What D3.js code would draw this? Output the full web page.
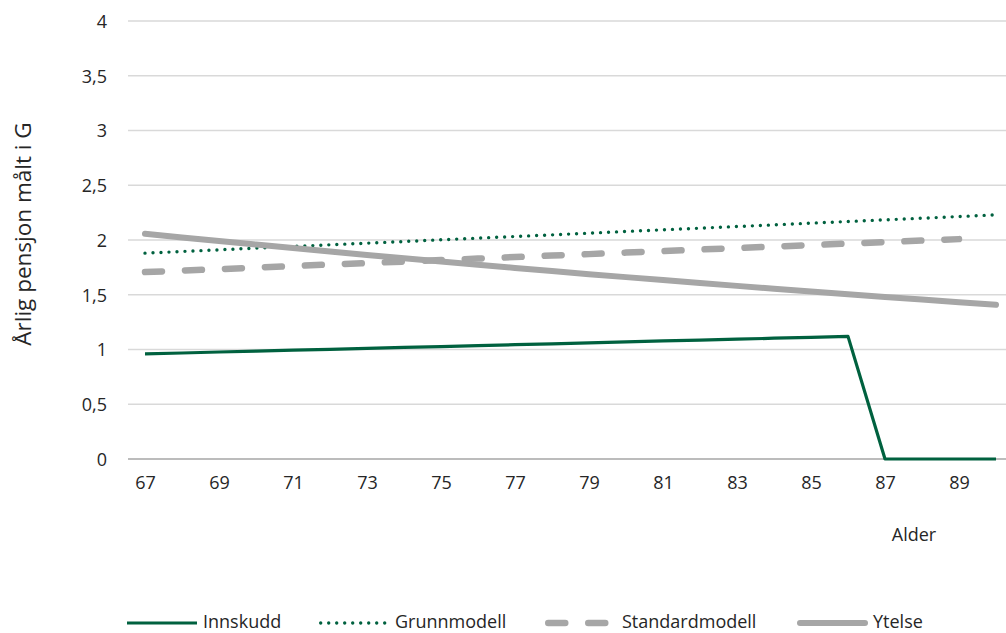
<!DOCTYPE html>
<html><head><meta charset="utf-8">
<script src="https://cdn.jsdelivr.net/npm/d3@7/dist/d3.min.js"></script>
<style>
body{margin:0;background:#fff}
text{font-family:"Open Sans",sans-serif;fill:#262626}
</style></head>
<body><svg id="c" width="1006" height="633"></svg>
<script>
const ages = [67,68,69,70,71,72,73,74,75,76,77,78,79,80,81,82,83,84,85,86,87,88,89,90];
const xTickLabels = [67,69,71,73,75,77,79,81,83,85,87,89];
const yTicks = [0,0.5,1,1.5,2,2.5,3,3.5,4];
const yTickLabels = ["0","0,5","1","1,5","2","2,5","3","3,5","4"];
const seriesNames = ["Innskudd","Grunnmodell","Standardmodell","Ytelse"];
const innskudd = [0.960,0.968,0.977,0.985,0.994,1.002,1.010,1.019,1.027,1.036,1.044,1.052,1.061,1.069,1.078,1.086,1.094,1.103,1.111,1.120,0,0,0,0];
const grunnmodell = [1.880,1.895,1.910,1.926,1.941,1.956,1.971,1.986,2.002,2.017,2.032,2.047,2.062,2.078,2.093,2.108,2.123,2.138,2.154,2.169,2.184,2.199,2.214,2.230];
const standardmodell = [1.707,1.721,1.734,1.748,1.762,1.776,1.789,1.803,1.817,1.830,1.844,1.858,1.871,1.885,1.899,1.913,1.926,1.940,1.954,1.967,1.981,1.995,2.008];
const ytelse = [2.057,2.023,1.990,1.958,1.926,1.894,1.863,1.833,1.803,1.774,1.745,1.716,1.688,1.661,1.634,1.607,1.581,1.555,1.530,1.505,1.480,1.456,1.432,1.409];
const yTitle = "Årlig pensjon målt i G";
const xTitle = "Alder";

const svg = d3.select("#c");
const x = d3.scaleLinear().domain([67,90]).range([145,996]);
const y = d3.scaleLinear().domain([0,4]).range([459,21]);
const gridLeft = 128, gridRight = 1006;

// gridlines + y labels
const yAxis = d3.axisLeft(y).tickValues(yTicks).tickSize(0).tickPadding(0)
  .tickFormat((d,i)=>yTickLabels[i]);
const gy = svg.append("g").attr("transform","translate(107,0)").call(yAxis);
gy.select(".domain").remove();
gy.selectAll("text").attr("font-size",18).attr("dy","0.36em").style("font-family","Open Sans").attr("fill","#262626");

svg.append("g").selectAll("line").data(yTicks.filter(d=>d>0)).join("line")
  .attr("x1",gridLeft).attr("x2",gridRight)
  .attr("y1",d=>y(d)).attr("y2",d=>y(d))
  .attr("stroke","#d9d9d9").attr("stroke-width",1.5);
svg.append("line").attr("x1",gridLeft).attr("x2",gridRight)
  .attr("y1",y(0)).attr("y2",y(0)).attr("stroke","#a6a6a6").attr("stroke-width",1.5);

// x labels
const xAxis = d3.axisBottom(x).tickValues(xTickLabels).tickSize(0).tickPadding(0).tickFormat(d3.format("d"));
const gx = svg.append("g").attr("transform","translate(0,475)").call(xAxis);
gx.select(".domain").remove();
gx.selectAll("text").attr("font-size",18).attr("dy","0.8em").style("font-family","Open Sans").attr("fill","#262626");

svg.append("text").attr("x",914).attr("y",541).attr("text-anchor","middle").attr("font-size",18).text(xTitle);
svg.append("text").attr("transform","translate(31,234) rotate(-90)").attr("text-anchor","middle").attr("font-size",22.5).text(yTitle);

const green = "#00613f", gray = "#a6a6a6";
const styles = [
  {data:innskudd, color:green, w:3.2, dash:null, cap:"butt"},
  {data:grunnmodell, color:green, w:3.4, dash:"0 8", cap:"round"},
  {data:standardmodell, color:gray, w:6.5, dash:"17 23", cap:"round"},
  {data:ytelse, color:gray, w:6, dash:null, cap:"round"}
];
const line = d3.line().x((d,i)=>x(ages[i])).y(d=>y(d));
styles.forEach(s=>{
  svg.append("path").datum(s.data).attr("d",line).attr("fill","none")
    .attr("stroke",s.color).attr("stroke-width",s.w)
    .attr("stroke-linecap",s.cap).attr("stroke-linejoin","round")
    .attr("stroke-dasharray",s.dash);
});

// legend
const legendPos = [{x1:127,x2:197,tx:203},{x1:319,x2:386,tx:395},{x1:545,x2:608,tx:622},{x1:797,x2:868,tx:873}];
const lg = svg.append("g");
seriesNames.forEach((n,i)=>{
  const s = styles[i], p = legendPos[i];
  lg.append("line").attr("x1",p.x1+(s.cap==="round"?s.w/2:0)).attr("x2",p.x2-(s.cap==="round"&&!s.dash?s.w/2:0))
    .attr("y1",623).attr("y2",623)
    .attr("stroke",s.color).attr("stroke-width",s.w).attr("stroke-linecap",s.cap)
    .attr("stroke-dasharray",s.dash);
  lg.append("text").attr("x",p.tx).attr("y",628).attr("font-size",18).text(n);
});
</script></body></html>
